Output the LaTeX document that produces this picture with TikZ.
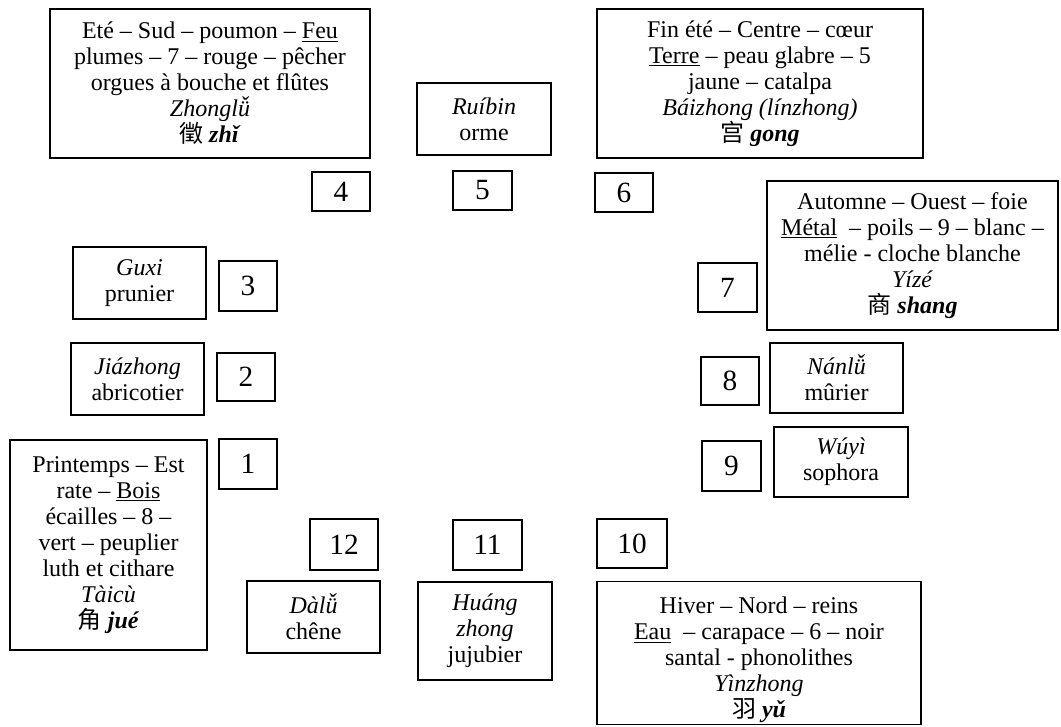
\documentclass[tikz,border=0pt]{standalone}
\usepackage{fontspec}
\setmainfont{Liberation Serif}
\newfontfamily\cjk{Noto Sans CJK SC}
\begin{document}
\begin{tikzpicture}[x=0.75pt,y=-0.75pt,
  box/.style={draw, line width=1pt, inner sep=0pt, align=center,
    font=\fontsize{18}{19.5}\selectfont},
  txt/.style={inner sep=0pt, align=center, font=\fontsize{18}{19.5}\selectfont},
  numbox/.style={draw, line width=1pt, inner sep=0pt,
    font=\fontsize{22}{26}\selectfont}]
\useasboundingbox (0,0) rectangle (1061,726);

% large element boxes
\node[box, minimum width=240pt, minimum height=111.75pt] (zhi) at (210,83.5)
  {Eté – Sud – poumon – \underline{Feu}\\
   plumes – 7 – rouge – pêcher\\
   orgues à bouche et flûtes\\
   \textit{Zhonglǚ}\\
   {\cjk 徵} \textbf{\textit{zhǐ}}};
\node[box, minimum width=244.5pt, minimum height=111.75pt] (gong) at (760,83.5)
  {Fin été – Centre – cœur\\
   \underline{Terre} – peau glabre – 5\\
   jaune – catalpa\\
   \textit{Báizhong (línzhong)}\\
   {\cjk 宫} \textbf{\textit{gong}}};
\node[box, minimum width=218.25pt, minimum height=111.75pt] (shang) at (912.5,255.5)
  {Automne – Ouest – foie\\
   \underline{Métal}\ \ – poils – 9 – blanc –\\
   mélie - cloche blanche\\
   \textit{Yízé}\\
   {\cjk 商} \textbf{\textit{shang}}};
\node[box, minimum width=147.75pt, minimum height=157.5pt] (jue) at (108.5,545)
  {Printemps – Est\\
   rate – \underline{Bois}\\
   écailles – 8 –\\
   vert – peuplier\\
   luth et cithare\\
   \textit{Tàicù}\\
   {\cjk 角} \textbf{\textit{jué}}};
\node[box, minimum width=243pt, minimum height=107.25pt] (yu) at (759,653) {};
\node[txt, anchor=north] (yutext) at (759,597)
  {Hiver – Nord – reins\\
   \underline{Eau}\ \ – carapace – 6 – noir\\
   santal - phonolithes\\
   \textit{Yìnzhong}\\
   {\cjk 羽} \textbf{\textit{yǔ}}};

% small lü boxes
\node[box, minimum width=100.5pt, minimum height=54pt] (ruibin) at (484,119)
  {\textit{Ruíbin}\\orme};
\node[box, minimum width=99.75pt, minimum height=54pt] (guxi) at (139.5,283)
  {\textit{Guxi}\\prunier};
\node[box, minimum width=99.75pt, minimum height=54pt] (jiazhong) at (137.5,379)
  {\textit{Jiázhong}\\abricotier};
\node[box, minimum width=99.75pt, minimum height=52.5pt] (nanlu) at (836.5,378)
  {\textit{Nánlǚ}\\mûrier};
\node[box, minimum width=100.5pt, minimum height=52.5pt] (wuyi) at (841,462)
  {\textit{Wúyì}\\sophora};
\node[box, minimum width=99.75pt, minimum height=54pt] (dalu) at (313.5,617)
  {\textit{Dàlǚ}\\chêne};
\node[box, minimum width=100.5pt, minimum height=73.5pt] (huang) at (485,631)
  {\textit{Huáng}\\\textit{zhong}\\jujubier};

% number boxes
\node[numbox, minimum width=43.5pt, minimum height=29.25pt] (n4) at (341,191.5) {4};
\node[numbox, minimum width=44.25pt, minimum height=29.25pt] (n5) at (482.5,190.5) {5};
\node[numbox, minimum width=43.5pt, minimum height=29.25pt] (n6) at (624,192.5) {6};
\node[numbox, minimum width=44.25pt, minimum height=36.75pt] (n7) at (727.5,287.5) {7};
\node[numbox, minimum width=43.5pt, minimum height=37.5pt] (n3) at (248,286) {3};
\node[numbox, minimum width=43.5pt, minimum height=36pt] (n2) at (246,377) {2};
\node[numbox, minimum width=43.5pt, minimum height=36pt] (n8) at (730,381) {8};
\node[numbox, minimum width=43.5pt, minimum height=37.5pt] (n1) at (248,464) {1};
\node[numbox, minimum width=44.25pt, minimum height=37.5pt] (n9) at (731.5,466) {9};
\node[numbox, minimum width=51pt, minimum height=38.25pt] (n12) at (344,544.5) {12};
\node[numbox, minimum width=51.75pt, minimum height=37.5pt] (n11) at (487.5,545) {11};
\node[numbox, minimum width=52.5pt, minimum height=36.75pt] (n10) at (632,543.5) {10};
\end{tikzpicture}
\end{document}
